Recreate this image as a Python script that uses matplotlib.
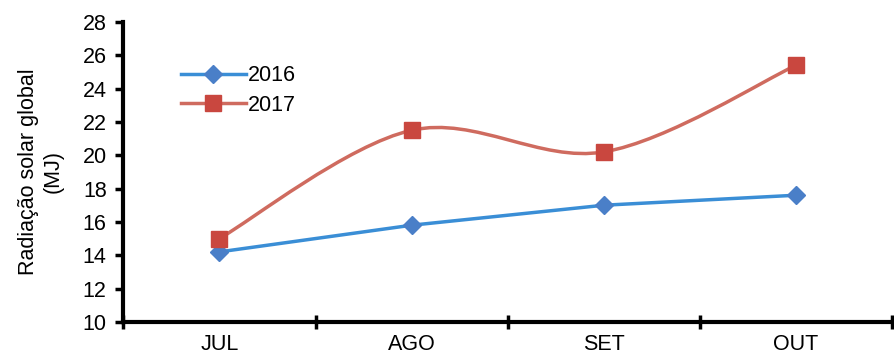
import numpy as np
import matplotlib.pyplot as plt
from matplotlib.path import Path
from matplotlib.patches import PathPatch

plt.rcParams['font.family'] = ['Liberation Sans', 'DejaVu Sans']

MONTHS = ["JUL", "AGO", "SET", "OUT"]
Y2016 = [14.2, 15.8, 17.0, 17.6]
Y2017 = [15.0, 21.5, 20.2, 25.4]

BLUE_LINE = "#3A8ED6"
BLUE_MARK = "#4A7FC8"
RED_LINE = "#CF6B5F"
RED_MARK = "#C9473F"
FS = 15.5


# smoothed line like the spreadsheet "smooth line" option (cubic bezier)
def smooth_path(xs, ys):
    pts = np.column_stack([xs, ys])
    verts = [pts[0]]
    codes = [Path.MOVETO]
    n = len(pts)
    for i in range(n - 1):
        p0 = pts[max(i - 1, 0)]
        p1 = pts[i]
        p2 = pts[i + 1]
        p3 = pts[min(i + 2, n - 1)]
        c1 = p1 + (p2 - p0) / 6.0
        c2 = p2 - (p3 - p1) / 6.0
        verts += [c1, c2, p2]
        codes += [Path.CURVE4] * 3
    return Path(verts, codes)


fig = plt.figure(figsize=(8.94, 3.6), dpi=100)
ax = fig.add_axes([0.138, 0.106, 0.860, 0.833])

xs = np.arange(len(MONTHS)) + 0.5

ax.plot(xs, Y2016, color=BLUE_LINE, lw=2.5, marker="D", ms=9,
        mfc=BLUE_MARK, mec=BLUE_MARK, label="2016", zorder=3)

patch = PathPatch(smooth_path(xs, Y2017), facecolor="none",
                  edgecolor=RED_LINE, lw=2.5, zorder=3)
ax.add_patch(patch)
ax.plot(xs, Y2017, ls="none", marker="s", ms=11, mfc=RED_MARK,
        mec=RED_MARK, zorder=4)
# legend handle for the smoothed series
ax.plot([], [], color=RED_LINE, lw=2.5, marker="s", ms=11,
        mfc=RED_MARK, mec=RED_MARK, label="2017")

ax.set_xlim(0, len(MONTHS))
ax.set_ylim(10, 28)
ax.set_yticks(np.arange(10, 29, 2))
ax.set_xticks(np.arange(0, len(MONTHS) + 1))
ax.set_xticklabels([])
ax.set_xticks(xs, minor=True)
ax.set_xticklabels(MONTHS, minor=True)
ax.tick_params(axis="x", which="minor", length=0, labelsize=FS, pad=9)
ax.tick_params(axis="x", which="major", direction="inout", length=10, width=2.5)
ax.tick_params(axis="y", direction="out", length=6, width=2.5, labelsize=FS, pad=6)

for s in ["top", "right"]:
    ax.spines[s].set_visible(False)
for s in ["left", "bottom"]:
    ax.spines[s].set_linewidth(3)
    ax.spines[s].set_color("black")

ax.set_ylabel("Radiação solar global\n(MJ)", fontsize=FS, labelpad=14)

ax.legend(loc="upper left", bbox_to_anchor=(0.05, 0.92), frameon=False,
          fontsize=FS, handlelength=3, handletextpad=0.1, labelspacing=0.4)

fig.savefig("out.png", dpi=100)
